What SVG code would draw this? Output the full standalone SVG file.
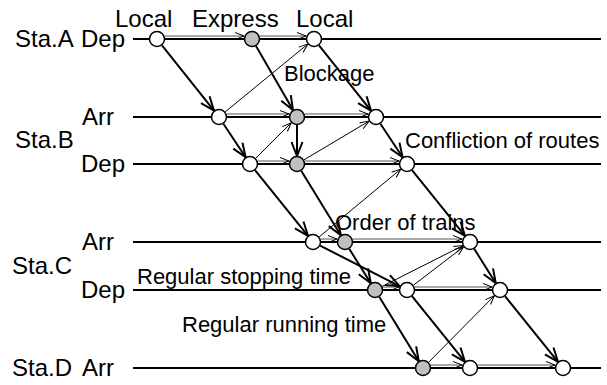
<svg xmlns="http://www.w3.org/2000/svg" width="607" height="385" viewBox="0 0 607 385">
<style>
text{font-family:"Liberation Sans",Arial,sans-serif;font-size:22px;fill:#000}
.st{font-size:24px}
.time{stroke:#000;stroke-width:2;fill:none}
.thick{stroke:#000;stroke-width:2;fill:none;marker-end:url(#big)}
.thin{stroke:#000;stroke-width:1;fill:none;marker-end:url(#small)}
.ord{stroke:#555;stroke-width:1;fill:none;marker-end:url(#small)}
.w{fill:#fff;stroke:#000;stroke-width:1.5}
.g{fill:#c0c0c0;stroke:#000;stroke-width:1.5}
</style>
<defs>
<marker id="big" markerUnits="userSpaceOnUse" viewBox="-16 -7 18 14" markerWidth="18" markerHeight="14" refX="0" refY="0" orient="auto">
<path d="M-14,-5.5 L0,0 L-14,5.5" fill="none" stroke="#000" stroke-width="2"/>
</marker>
<marker id="small" markerUnits="userSpaceOnUse" viewBox="-11 -5 12 10" markerWidth="12" markerHeight="10" refX="0" refY="0" orient="auto">
<path d="M-9,-3.5 L0,0 L-9,3.5" fill="none" stroke="#000" stroke-width="1"/>
</marker>
</defs>
<g id="labels">
<text class="st" x="15" y="47">Sta.A</text>
<text class="st" x="81" y="47">Dep</text>
<text class="st" x="82" y="125">Arr</text>
<text class="st" x="15" y="148">Sta.B</text>
<text class="st" x="81" y="172">Dep</text>
<text class="st" x="82" y="250">Arr</text>
<text class="st" x="12" y="274">Sta.C</text>
<text class="st" x="81" y="298">Dep</text>
<text class="st" x="12" y="376">Sta.D</text>
<text class="st" x="82" y="376">Arr</text>
<text class="st" x="115" y="27">Local</text>
<text class="st" x="192" y="27">Express</text>
<text class="st" x="296" y="27">Local</text>
<text x="284" y="81">Blockage</text>
<text x="405" y="148">Confliction of routes</text>
<text x="335" y="230">Order of trains</text>
<text x="137" y="284">Regular stopping time</text>
<text x="182" y="332">Regular running time</text>
</g>
<g id="timelines">
<line class="time" x1="133" y1="39" x2="601" y2="39"/>
<line class="time" x1="133" y1="117" x2="601" y2="117"/>
<line class="time" x1="133" y1="164" x2="601" y2="164"/>
<line class="time" x1="133" y1="242" x2="601" y2="242"/>
<line class="time" x1="133" y1="290" x2="601" y2="290"/>
<line class="time" x1="133" y1="368" x2="601" y2="368"/>
</g>
<g id="connectors">
<line class="thick" x1="162" y1="45.3" x2="214" y2="110.7"/>
<line class="thick" x1="223.4" y1="123.7" x2="245.6" y2="157.3"/>
<line class="thick" x1="255" y1="170.2" x2="308" y2="235.8"/>
<line class="thick" x1="320.1" y1="245.6" x2="399.9" y2="286.4"/>
<line class="thick" x1="412" y1="296.2" x2="465" y2="361.8"/>
<line class="thick" x1="256" y1="45.9" x2="293" y2="110.1"/>
<line class="thick" x1="297" y1="125" x2="297" y2="156"/>
<line class="thick" x1="301.2" y1="170.8" x2="340.8" y2="235.2"/>
<line class="thick" x1="349.2" y1="248.8" x2="370.8" y2="283.2"/>
<line class="thick" x1="379.2" y1="296.8" x2="418.8" y2="361.2"/>
<line class="thick" x1="319" y1="45.3" x2="371" y2="110.7"/>
<line class="thick" x1="380.4" y1="123.7" x2="402.6" y2="157.3"/>
<line class="thick" x1="412" y1="170.2" x2="465" y2="235.8"/>
<line class="thick" x1="474.2" y1="248.8" x2="495.8" y2="283.2"/>
<line class="thick" x1="505" y1="296.2" x2="558" y2="361.8"/>
<line class="thin" x1="225.2" y1="111.9" x2="307.8" y2="44.1"/>
<line class="thin" x1="255.7" y1="158.3" x2="291.3" y2="122.7"/>
<line class="thin" x1="303.9" y1="159.9" x2="369.1" y2="121.1"/>
<line class="thin" x1="319.2" y1="236.9" x2="400.8" y2="169.1"/>
<line class="thin" x1="382.1" y1="286.4" x2="462.9" y2="245.6"/>
<line class="thin" x1="413.4" y1="285.2" x2="463.6" y2="246.8"/>
<line class="thin" x1="428.6" y1="362.3" x2="494.4" y2="295.7"/>
<line class="ord" x1="165" y1="36" x2="244" y2="36"/>
<line class="ord" x1="260" y1="36" x2="306" y2="36"/>
<line class="ord" x1="227" y1="114" x2="289" y2="114"/>
<line class="ord" x1="305" y1="114" x2="368" y2="114"/>
<line class="ord" x1="258" y1="161" x2="289" y2="161"/>
<line class="ord" x1="305" y1="161" x2="399" y2="161"/>
<line class="ord" x1="321" y1="239" x2="337" y2="239"/>
<line class="ord" x1="353" y1="239" x2="462" y2="239"/>
<line class="ord" x1="383" y1="287" x2="399" y2="287"/>
<line class="ord" x1="415" y1="287" x2="492" y2="287"/>
<line class="ord" x1="431" y1="365" x2="462" y2="365"/>
<line class="ord" x1="478" y1="365" x2="555" y2="365"/>
</g>
<g id="A1"><circle class="w" cx="157" cy="39" r="7.5"/></g>
<g id="A2"><circle class="g" cx="252" cy="39" r="7.5"/></g>
<g id="A3"><circle class="w" cx="314" cy="39" r="7.5"/></g>
<g id="B1"><circle class="w" cx="219" cy="117" r="7.5"/></g>
<g id="B2"><circle class="g" cx="297" cy="117" r="7.5"/></g>
<g id="B3"><circle class="w" cx="376" cy="117" r="7.5"/></g>
<g id="B4"><circle class="w" cx="250" cy="164" r="7.5"/></g>
<g id="B5"><circle class="g" cx="297" cy="164" r="7.5"/></g>
<g id="B6"><circle class="w" cx="407" cy="164" r="7.5"/></g>
<g id="C1"><circle class="w" cx="313" cy="242" r="7.5"/></g>
<g id="C2"><circle class="g" cx="345" cy="242" r="7.5"/></g>
<g id="C3"><circle class="w" cx="470" cy="242" r="7.5"/></g>
<g id="C4"><circle class="g" cx="375" cy="290" r="7.5"/></g>
<g id="C5"><circle class="w" cx="407" cy="290" r="7.5"/></g>
<g id="C6"><circle class="w" cx="500" cy="290" r="7.5"/></g>
<g id="D1"><circle class="g" cx="423" cy="368" r="7.5"/></g>
<g id="D2"><circle class="w" cx="470" cy="368" r="7.5"/></g>
<g id="D3"><circle class="w" cx="563" cy="368" r="7.5"/></g>
</svg>
